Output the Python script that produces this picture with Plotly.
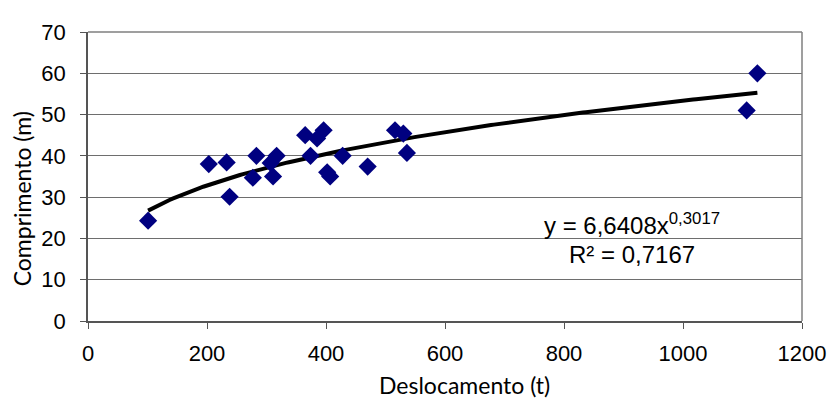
import numpy as np
import plotly.graph_objects as go

deslocamento = [101, 203, 233, 238, 283, 277, 317, 311, 307, 365, 396, 385, 374,
                402, 407, 428, 470, 516, 530, 536, 1107, 1125]
comprimento = [24.3, 38.0, 38.4, 30.1, 40.0, 34.7, 40.0, 35.0, 38.3, 45.0, 46.2, 44.2, 40.0,
               36.0, 35.0, 40.0, 37.4, 46.2, 45.4, 40.7, 51.0, 60.0]
fit_a = 6.6408
fit_b = 0.3017
fit_eq = "y = 6,6408x<sup>0,3017</sup>"
fit_r2 = "R² = 0,7167"
x_title = "Deslocamento (t)"
y_title = "Comprimento (m)"
x_ticks = [0, 200, 400, 600, 800, 1000, 1200]
y_ticks = [0, 10, 20, 30, 40, 50, 60, 70]

xt = np.linspace(min(deslocamento), max(deslocamento), 200)
yt = fit_a * xt ** fit_b

fig = go.Figure()
fig.add_trace(go.Scatter(x=xt, y=yt, mode="lines",
                         line=dict(color="black", width=4), hoverinfo="skip"))
fig.add_trace(go.Scatter(x=deslocamento, y=comprimento, mode="markers",
                         marker=dict(symbol="diamond", size=14, color="#000080",
                                     line=dict(width=0))))

arial = "Liberation Sans, Arial, sans-serif"
title_font = "Lato, Carlito, Calibri, sans-serif"
# page body has an 8px margin, so the figure is offset by 8px
fig.update_layout(
    width=838, height=403,
    margin=dict(l=80, r=44, t=16, b=90),
    paper_bgcolor="white", plot_bgcolor="white",
    showlegend=False,
    font=dict(family=arial, color="black", size=22),
    xaxis=dict(range=[0, 1200], tickvals=x_ticks, showgrid=False, zeroline=False,
               showline=True, linecolor="#555555", linewidth=1.5,
               ticks="outside", ticklen=6, tickcolor="#555555",
               tickfont=dict(size=22, family=arial), ticklabelstandoff=6),
    yaxis=dict(range=[0, 70], tickvals=y_ticks, showgrid=True, gridcolor="#6e6e6e",
               gridwidth=1, zeroline=False,
               showline=True, linecolor="#555555", linewidth=1.5,
               ticks="outside", ticklen=6, tickcolor="#555555",
               tickfont=dict(size=22, family=arial), ticklabelstandoff=10),
    shapes=[
        dict(type="line", xref="x domain", yref="y domain", x0=1, x1=1, y0=0, y1=1,
             line=dict(color="#7f7f7f", width=1.5)),
        dict(type="line", xref="x domain", yref="y domain", x0=0, x1=1, y0=1, y1=1,
             line=dict(color="#7f7f7f", width=1.5)),
    ],
    annotations=[
        dict(x=0.528, y=-0.222, xref="paper", yref="paper", showarrow=False,
             text=x_title, font=dict(size=23, family=title_font),
             xanchor="center", yanchor="middle"),
        dict(x=-0.0924, y=0.421, xref="paper", yref="paper", showarrow=False,
             text=y_title, font=dict(size=23, family=title_font), textangle=-90,
             xanchor="center", yanchor="middle"),
        dict(x=914, y=23.5, xref="x", yref="y", showarrow=False,
             text=fit_eq, font=dict(size=24, family=arial), xanchor="center", yanchor="middle"),
        dict(x=914, y=16.2, xref="x", yref="y", showarrow=False,
             text=fit_r2, font=dict(size=24, family=arial), xanchor="center", yanchor="middle"),
    ],
)

fig.write_html("out.html")
